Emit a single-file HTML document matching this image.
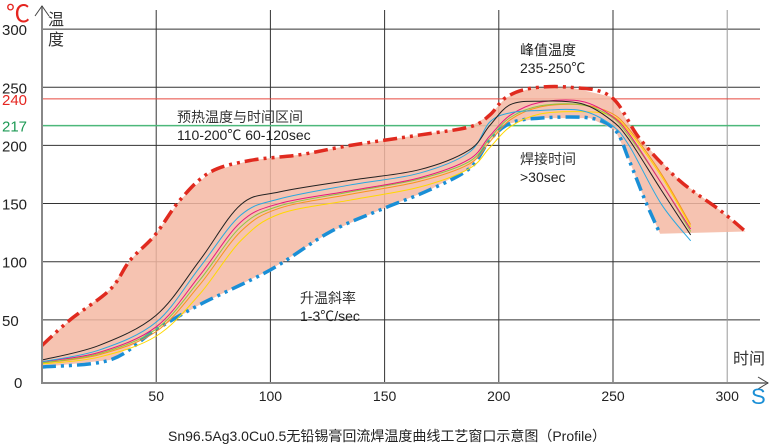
<!DOCTYPE html>
<html><head><meta charset="utf-8">
<style>
body{margin:0;background:#fff;}
svg{display:block;font-family:"Liberation Sans","Noto Sans CJK SC",sans-serif;}
</style></head>
<body>
<svg id="chart" width="775" height="447" viewBox="0 0 775 447" xmlns="http://www.w3.org/2000/svg">
<g id="grid"></g>
<g id="band"></g>
<g id="series"></g>
<g id="axes">
  <line x1="42" y1="6" x2="42" y2="384" stroke="#888" stroke-width="2"/>
  <polyline points="35,16 42,6 49,16" fill="none" stroke="#444" stroke-width="1"/>
  <line x1="42" y1="383" x2="768" y2="383" stroke="#888" stroke-width="2"/>
  <polyline points="758,377 768,383 758,389" fill="none" stroke="#444" stroke-width="1"/>
</g>
<g id="labels"></g>
<text x="6" y="22" font-size="24" fill="#e52520">℃</text>
<text x="48" y="25" font-size="16" fill="#333">温</text>
<text x="48" y="45" font-size="16" fill="#333">度</text>
<text x="733" y="364" font-size="16" fill="#333">时间</text>
<text x="751" y="404" font-size="22" fill="#1a8fd6">S</text>
<text x="520" y="55" font-size="14" fill="#222">峰值温度</text>
<text x="520" y="73" font-size="14" fill="#222">235-250℃</text>
<text x="177" y="122" font-size="14" fill="#333">预热温度与时间区间</text>
<text x="177" y="140" font-size="14" fill="#222">110-200℃ 60-120sec</text>
<text x="520" y="164" font-size="14" fill="#333">焊接时间</text>
<text x="520" y="182" font-size="14" fill="#222">&gt;30sec</text>
<text x="300" y="303" font-size="14" fill="#333">升温斜率</text>
<text x="300" y="321" font-size="14" fill="#222">1-3℃/sec</text>
<text x="387" y="441" font-size="14" fill="#222" text-anchor="middle">Sn96.5Ag3.0Cu0.5无铅锡膏回流焊温度曲线工艺窗口示意图（Profile）</text>
</svg>
<script>
const yTicks=[300,250,200,150,100,50,0];
const xTicks=[50,100,150,200,250,300];
const refLines=[240,217];
const refColors=["#e8473f","#4cb87a"];
const upperT=[0,12.3,29.8,38.5,49.5,60.4,73.6,91,113,135,165.5,187.4,196,203,213.7,231,249,262,279,297,308];
const upperV=[28,50,76,101,123,153,177,187,192,200,209,216,226,241,249,250,242,205,170,144,126];
const lowerT=[0,29.8,49.5,69,100,126,148,170,187.4,196,205,218,240,251,257,264,270.6];
const lowerV=[9.5,15.5,41,63,93,125.5,144.5,162,180.5,204.6,219,223.5,223.5,213,187.5,153,124];
const curveT=[0,25,50,69,87,104,135,165,187,196,205,218,236,249,257,271,284];
const curveBlack=[15.5,28,54,101,149,160,170,179,196,217,235,238,236,222,205,162,123];
const curveBlue=[14,24,48,95,140,154,166,176,194,220,228,230,230,218,200,150,118];
const curveMagenta=[14,22,44,88,134,150,161,172,188,208,226,237,238,226,210,168,128];
const curveOrange=[13,20,40,80,126,146,158,169,184,203,222,233,235,228,214,176,132];
const curveYellow=[12,18,36,72,118,141,153,164,180,198,216,227,229,226,212,174,130];
const curveGreen=[13,21,42,84,130,148,160,171,186,206,224,234,235,225,208,168,126];
const seriesList=[curveYellow,curveOrange,curveGreen,curveMagenta,curveBlue,curveBlack];
const seriesColors=["#ffd800","#f7941d","#8cc63f","#e6197d","#29a8e0","#222"];
const seriesNames=["curve-yellow","curve-orange","curve-green","curve-magenta","curve-blue","curve-black"];
const NS="http://www.w3.org/2000/svg";
const xs=t=>42+t*2.284;
const ys=v=>378-v*1.163;
function mk(tag,attrs,parent){const e=document.createElementNS(NS,tag);for(const k in attrs)e.setAttribute(k,attrs[k]);parent.appendChild(e);return e;}
const grid=document.getElementById('grid'),labels=document.getElementById('labels');
yTicks.forEach(v=>{
  if(v>0){const l=mk('line',{x1:42,x2:760,y1:ys(v),y2:ys(v),stroke:'#333','stroke-width':1},grid);
  
  }
  const t=mk('text',{x:v===0?14:2,y:ys(v)+(v===0?10:6),'font-size':15,fill:'#222'},labels);
  t.textContent=v;
  
  
});
xTicks.forEach(v=>{
  const l=mk('line',{x1:xs(v),x2:xs(v),y1:10,y2:383,stroke:v===300?'#999':'#333','stroke-width':1},grid);
  
  
  const t=mk('text',{x:xs(v),y:401,'font-size':14,fill:'#222','text-anchor':'middle'},labels);
  t.textContent=v;
  
  
});
refLines.forEach((v,i)=>{
  const l=mk('line',{x1:42,x2:760,y1:ys(v),y2:ys(v),stroke:refColors[i],'stroke-width':i?1.5:1},grid);
  
  
  const t=mk('text',{x:2,y:ys(v)+6,'font-size':15,fill:i?'#1e9a55':'#e52520'},labels);
  t.textContent=v;
  
  
});
function pts(T,V){return T.map((t,i)=>xs(t).toFixed(1)+','+ys(V[i]).toFixed(1));}
function smooth(T,V){const p=T.map((t,i)=>[xs(t),ys(V[i])]);let d='M'+p[0][0]+','+p[0][1];
  for(let i=0;i<p.length-1;i++){const p0=p[i-1]||p[i],p1=p[i],p2=p[i+1],p3=p[i+2]||p2;
  d+=' C'+(p1[0]+(p2[0]-p0[0])/6)+','+(p1[1]+(p2[1]-p0[1])/6)+' '+(p2[0]-(p3[0]-p1[0])/6)+','+(p2[1]-(p3[1]-p1[1])/6)+' '+p2[0]+','+p2[1];}
  return d;}
const band=document.getElementById('band');
const poly=pts(upperT,upperV).concat(pts(lowerT,lowerV).reverse());
const bp=mk('polygon',{points:poly.join(' '),fill:'#f4b8a3',opacity:0.85},band);


const sg=document.getElementById('series');
seriesList.forEach((s,i)=>{
  const p=mk('path',{d:smooth(curveT,s),fill:'none',stroke:seriesColors[i],'stroke-width':1},sg);
  
  
});
const up=mk('path',{d:smooth(upperT,upperV),fill:'none',stroke:'#e02a1f','stroke-width':3.5,'stroke-dasharray':'14 5 3 5 3 5'},band);


const lo=mk('path',{d:smooth(lowerT,lowerV),fill:'none',stroke:'#1a8fd6','stroke-width':3.5,'stroke-dasharray':'14 5 3 5 3 5'},band);


</script>
</body></html>
